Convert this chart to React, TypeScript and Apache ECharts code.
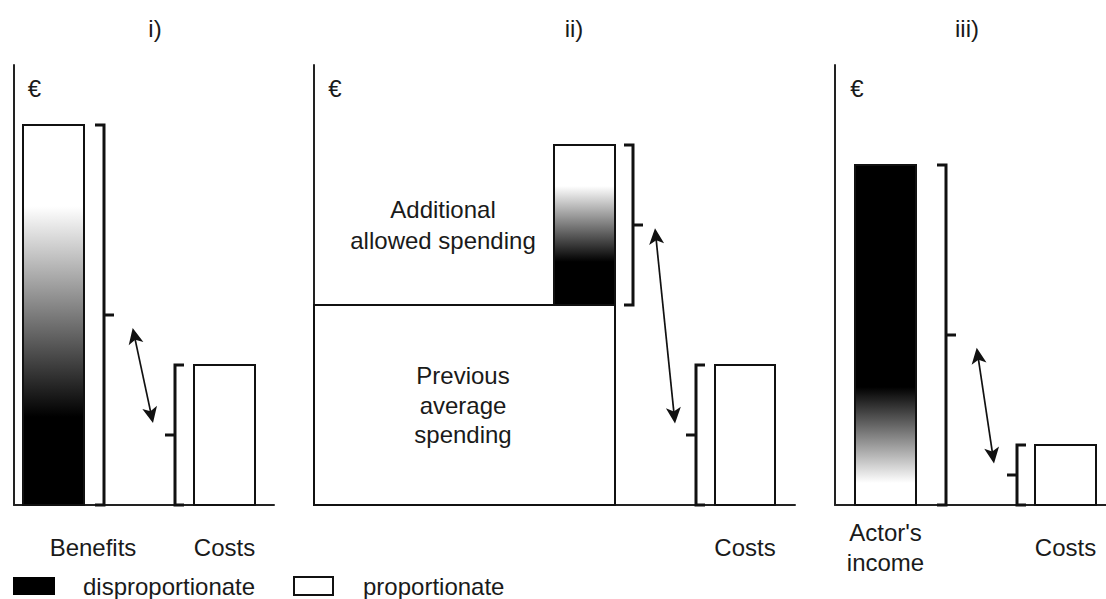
import React, { useEffect, useRef } from 'react';
import * as echarts from 'echarts';

// ---------- data ----------
const panelTitles = ['i)', 'ii)', 'iii)'];
const axisUnit = '€';
const panel1Categories = ['Benefits', 'Costs'];
const panel1Values = [95, 35];
const panel2Labels = ['Previous\naverage\nspending', 'Additional\nallowed spending'];
const panel2Values = [50, 40]; // previous average spending, additional allowed spending
const panel2Categories = ['Costs'];
const panel2Costs = [35];
const panel3Categories = ["Actor's\nincome", 'Costs'];
const panel3Values = [85, 15];
const legendLabels = ['disproportionate', 'proportionate'];

// ---------- layout ----------
const Y_MAX = 110;
const FONT = '"Liberation Sans", Arial, Helvetica, sans-serif';
const INK = '#111';
const TEXT = '#1a1a1a';
const GRID_TOP = 65;
const GRID_H = 440;
const gridDefs = [
  { left: 14, width: 260, xMax: 26 },
  { left: 314, width: 481, xMax: 48.1 },
  { left: 835, width: 271, xMax: 27.1 },
];
const titleX = [155, 574, 967];
const LABEL_Y = -10.5; // below x axis, in axis units
const EURO_Y = 104.25;

const grad = (stops: [number, string][]) =>
  new echarts.graphic.LinearGradient(
    0, 0, 0, 1,
    stops.map(([offset, color]) => ({ offset, color }))
  );

function rectEl(api: any, x0: number, x1: number, y0: number, y1: number, fill: any) {
  const p0 = api.coord([x0, y1]);
  const p1 = api.coord([x1, y0]);
  return {
    type: 'rect',
    shape: { x: p0[0], y: p0[1], width: p1[0] - p0[0], height: p1[1] - p0[1] },
    style: { fill, stroke: INK, lineWidth: 2 },
  };
}

// side = -1: serifs left, middle tick right  ("]" shape)
// side = +1: serifs right, middle tick left ("[" shape)
function bracketEls(api: any, x: number, y0: number, y1: number, side: number) {
  const s = 0.9;
  const t = 1.0;
  const mid = (y0 + y1) / 2;
  const pts = [
    [x + side * s, y1],
    [x, y1],
    [x, y0],
    [x + side * s, y0],
  ].map((p) => api.coord(p));
  const m0 = api.coord([x, mid]);
  const m1 = api.coord([x - side * t, mid]);
  return [
    { type: 'polyline', shape: { points: pts }, style: { stroke: INK, lineWidth: 3, fill: 'none' } },
    { type: 'line', shape: { x1: m0[0], y1: m0[1], x2: m1[0], y2: m1[1] }, style: { stroke: INK, lineWidth: 3 } },
  ];
}

function arrowEls(api: any, a: number[], b: number[]) {
  const pa = api.coord(a);
  const pb = api.coord(b);
  const dx = pb[0] - pa[0];
  const dy = pb[1] - pa[1];
  const len = Math.sqrt(dx * dx + dy * dy);
  const ux = dx / len;
  const uy = dy / len;
  const nx = -uy;
  const ny = ux;
  const L = 16;
  const W = 7.5;
  const head = (tip: number[], dirx: number, diry: number) => ({
    type: 'polygon',
    shape: {
      points: [
        [tip[0], tip[1]],
        [tip[0] + dirx * L + nx * W, tip[1] + diry * L + ny * W],
        [tip[0] + dirx * L * 0.75, tip[1] + diry * L * 0.75],
        [tip[0] + dirx * L - nx * W, tip[1] + diry * L - ny * W],
      ],
    },
    style: { fill: INK },
  });
  return [
    {
      type: 'line',
      shape: { x1: pa[0] + ux * 8, y1: pa[1] + uy * 8, x2: pb[0] - ux * 8, y2: pb[1] - uy * 8 },
      style: { stroke: INK, lineWidth: 1.7 },
    },
    head(pa, ux, uy),
    head(pb, -ux, -uy),
  ];
}

function textEl(api: any, x: number, y: number, text: string, lineHeight = 30) {
  const p = api.coord([x, y]);
  return {
    type: 'text',
    x: p[0],
    y: p[1],
    style: {
      text,
      fill: TEXT,
      fontSize: 24,
      fontFamily: FONT,
      align: 'center',
      verticalAlign: 'middle',
      lineHeight,
    },
  };
}

const renderPanel1 = (_p: any, api: any) => ({
  type: 'group',
  children: [
    rectEl(api, 0.9, 7.0, 0, panel1Values[0], grad([[0, '#fff'], [0.214, '#fff'], [0.768, '#000'], [1, '#000']])),
    ...bracketEls(api, 9.0, 0, panel1Values[0], -1),
    ...bracketEls(api, 16.1, 0, panel1Values[1], 1),
    rectEl(api, 18.0, 24.1, 0, panel1Values[1], '#fff'),
    ...arrowEls(api, [11.87, 44.25], [13.9, 20.5]),
    textEl(api, 2.05, EURO_Y, axisUnit),
    textEl(api, 7.9, LABEL_Y, panel1Categories[0]),
    textEl(api, 21.05, LABEL_Y, panel1Categories[1]),
  ],
});

const renderPanel2 = (_p: any, api: any) => {
  const prev = panel2Values[0];
  const top = panel2Values[0] + panel2Values[1];
  return {
    type: 'group',
    children: [
      rectEl(api, 0, 30.1, 0, prev, '#fff'),
      rectEl(api, 24.0, 30.1, prev, top, grad([[0, '#fff'], [0.256, '#fff'], [0.73, '#000'], [1, '#000']])),
      ...bracketEls(api, 31.9, prev, top, -1),
      ...bracketEls(api, 38.2, 0, panel2Costs[0], 1),
      rectEl(api, 40.1, 46.1, 0, panel2Costs[0], '#fff'),
      ...arrowEls(api, [34.1, 69.2], [36.1, 20.4]),
      textEl(api, 2.1, EURO_Y, axisUnit),
      textEl(api, 12.9, (prev + top) / 2, panel2Labels[1], 31),
      textEl(api, 14.9, 24.9, panel2Labels[0], 29.5),
      textEl(api, 43.1, LABEL_Y, panel2Categories[0]),
    ],
  };
};

const renderPanel3 = (_p: any, api: any) => ({
  type: 'group',
  children: [
    rectEl(api, 2.0, 8.1, 0, panel3Values[0], grad([[0, '#000'], [0.653, '#000'], [0.935, '#fff'], [1, '#fff']])),
    ...bracketEls(api, 11.1, 0, panel3Values[0], -1),
    ...bracketEls(api, 18.2, 0, panel3Values[1], 1),
    rectEl(api, 20.0, 26.1, 0, panel3Values[1], '#fff'),
    ...arrowEls(api, [14.17, 39.3], [15.9, 10.4]),
    textEl(api, 2.2, EURO_Y, axisUnit),
    textEl(api, 5.05, LABEL_Y, panel3Categories[0], 30),
    textEl(api, 23.05, LABEL_Y, panel3Categories[1]),
  ],
});

const axisLine = { show: true, onZero: false, lineStyle: { color: '#222', width: 2 } };

export default function App() {
  const ref = useRef<HTMLDivElement>(null);
  useEffect(() => {
    if (!ref.current) return;
    const chart = echarts.init(ref.current, undefined, { renderer: 'svg' });
    const renders = [renderPanel1, renderPanel2, renderPanel3];
    chart.setOption({
      animation: false,
      backgroundColor: '#fff',
      grid: gridDefs.map((g) => ({ left: g.left, top: GRID_TOP, width: g.width, height: GRID_H })),
      xAxis: gridDefs.map((g, i) => ({
        type: 'value',
        gridIndex: i,
        min: 0,
        max: g.xMax,
        axisLine,
        axisTick: { show: false },
        axisLabel: { show: false },
        splitLine: { show: false },
      })),
      yAxis: gridDefs.map((_g, i) => ({
        type: 'value',
        gridIndex: i,
        min: 0,
        max: Y_MAX,
        axisLine,
        axisTick: { show: false },
        axisLabel: { show: false },
        splitLine: { show: false },
      })),
      series: renders.map((r, i) => ({
        type: 'custom',
        xAxisIndex: i,
        yAxisIndex: i,
        clip: false,
        silent: true,
        data: [[0, 0]],
        renderItem: r,
        z: 3,
      })),
      graphic: [
        ...panelTitles.map((t, i) => ({
          type: 'text',
          x: titleX[i],
          y: 28,
          style: { text: t, fill: TEXT, fontSize: 24, fontFamily: FONT, align: 'center', verticalAlign: 'middle' },
        })),
        { type: 'rect', shape: { x: 13, y: 577, width: 42, height: 18 }, style: { fill: '#000' } },
        {
          type: 'text',
          x: 83,
          y: 586,
          style: { text: legendLabels[0], fill: TEXT, fontSize: 24, fontFamily: FONT, align: 'left', verticalAlign: 'middle' },
        },
        { type: 'rect', shape: { x: 294, y: 577, width: 39, height: 18 }, style: { fill: '#fff', stroke: INK, lineWidth: 2 } },
        {
          type: 'text',
          x: 363,
          y: 586,
          style: { text: legendLabels[1], fill: TEXT, fontSize: 24, fontFamily: FONT, align: 'left', verticalAlign: 'middle' },
        },
      ],
    });
    return () => chart.dispose();
  }, []);
  return (
    <div
      ref={ref}
      style={{ position: 'fixed', left: 0, top: 0, width: 1106, height: 599, background: '#fff' }}
    />
  );
}
